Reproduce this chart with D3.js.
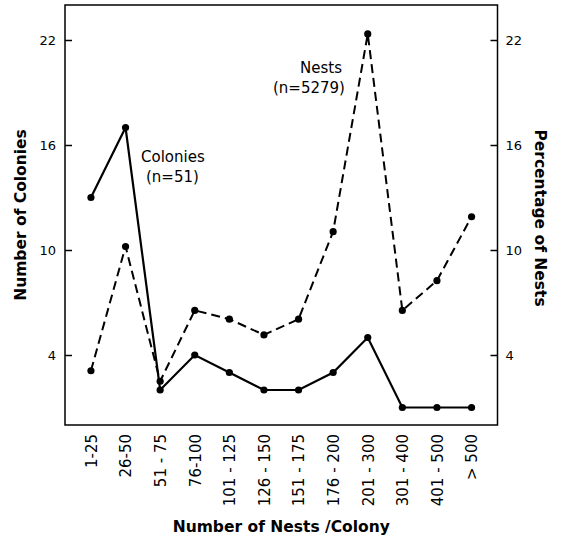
<!DOCTYPE html>
<html>
<head>
<meta charset="utf-8">
<script src="https://cdn.jsdelivr.net/npm/d3@7"></script>
<style>
  html, body { margin: 0; padding: 0; background: #fff; }
  svg { display: block; }
  text { font-family: "DejaVu Sans", sans-serif; fill: #000; }
</style>
</head>
<body>
<svg id="chart" width="562" height="540"></svg>
<script>
// ---- data ----
const categories = ["1-25","26-50","51-75","76-100","101-125","126-150","151-175","176-200","201-300","301-400","401-500","> 500"];
const tickLabels = ["1-25","26-50","51 - 75","76-100","101 - 125","126 - 150","151 - 175","176 - 200","201 - 300","301 - 400","401 - 500","> 500"];
const colonies = [13, 17, 2, 4, 3, 2, 2, 3, 5, 1, 1, 1];
const nestsPct = [3.1, 10.2, 2.5, 6.55, 6.05, 5.15, 6.05, 11.05, 22.35, 6.55, 8.25, 11.9];
const yTicks = [4, 10, 16, 22];

// ---- layout ----
const L = 65, R = 497.5, T = 5, B = 425;
const svg = d3.select("#chart");

const x = d3.scalePoint().domain(categories).range([L, R]).padding(0.75);
const y = d3.scaleLinear().domain([0, 24]).range([B, T]);

// frame
svg.append("rect").attr("x", L).attr("y", T).attr("width", R - L).attr("height", B - T)
  .attr("fill", "none").attr("stroke", "#000").attr("stroke-width", 1.5);

// left axis
const gl = svg.append("g").attr("transform", `translate(${L},0)`)
  .call(d3.axisLeft(y).tickValues(yTicks).tickSize(-7).tickPadding(9).tickFormat(d3.format("d")));
gl.select(".domain").remove();
gl.selectAll(".tick line").attr("stroke", "#000").attr("stroke-width", 1.5);
gl.selectAll(".tick text").style("font-size", "13px").style("font-family", "DejaVu Sans");

// right axis
const gr = svg.append("g").attr("transform", `translate(${R},0)`)
  .call(d3.axisRight(y).tickValues(yTicks).tickSize(-7).tickPadding(8).tickFormat(d3.format("d")));
gr.select(".domain").remove();
gr.selectAll(".tick line").attr("stroke", "#000").attr("stroke-width", 1.5);
gr.selectAll(".tick text").style("font-size", "13px").style("font-family", "DejaVu Sans");

// x tick labels (rotated)
const gx = svg.append("g").attr("transform", `translate(0,${B})`)
  .call(d3.axisBottom(x).tickSize(0).tickPadding(0).tickFormat((d, i) => tickLabels[i]));
gx.select(".domain").remove();
gx.selectAll(".tick text")
  .attr("transform", "rotate(-90)")
  .attr("x", -9).attr("y", 0).attr("dy", "0.36em")
  .style("text-anchor", "end")
  .style("font-size", "15px").style("font-family", "DejaVu Sans");

// lines
const line = (vals) => d3.line().x((d, i) => x(categories[i])).y(d => y(d))(vals);

svg.append("path").attr("d", line(nestsPct)).attr("fill", "none")
  .attr("stroke", "#000").attr("stroke-width", 2).attr("stroke-dasharray", "9,5");
svg.append("path").attr("d", line(colonies)).attr("fill", "none")
  .attr("stroke", "#000").attr("stroke-width", 2.2);

svg.append("g").selectAll("circle").data(nestsPct).join("circle")
  .attr("cx", (d, i) => x(categories[i])).attr("cy", d => y(d)).attr("r", 3.6).attr("fill", "#000");
svg.append("g").selectAll("circle").data(colonies).join("circle")
  .attr("cx", (d, i) => x(categories[i])).attr("cy", d => y(d)).attr("r", 3.6).attr("fill", "#000");

// annotations
const ann = [
  { t: "Colonies", x: 141, y: 162 },
  { t: "(n=51)", x: 146, y: 182 },
  { t: "Nests", x: 300, y: 73 },
  { t: "(n=5279)", x: 273, y: 93 }
];
svg.append("g").selectAll("text").data(ann).join("text")
  .attr("x", d => d.x).attr("y", d => d.y).text(d => d.t)
  .style("font-size", "15px");

// axis titles
svg.append("text").attr("transform", "translate(26,215) rotate(-90)")
  .attr("text-anchor", "middle").style("font-size", "15.5px").style("font-weight", "bold")
  .text("Number of Colonies");
svg.append("text").attr("transform", "translate(535,218) rotate(90)")
  .attr("text-anchor", "middle").style("font-size", "15.5px").style("font-weight", "bold")
  .text("Percentage of Nests");
svg.append("text").attr("x", (L + R) / 2).attr("y", 532)
  .attr("text-anchor", "middle").style("font-size", "15.5px").style("font-weight", "bold")
  .text("Number of Nests /Colony");
</script>
</body>
</html>
